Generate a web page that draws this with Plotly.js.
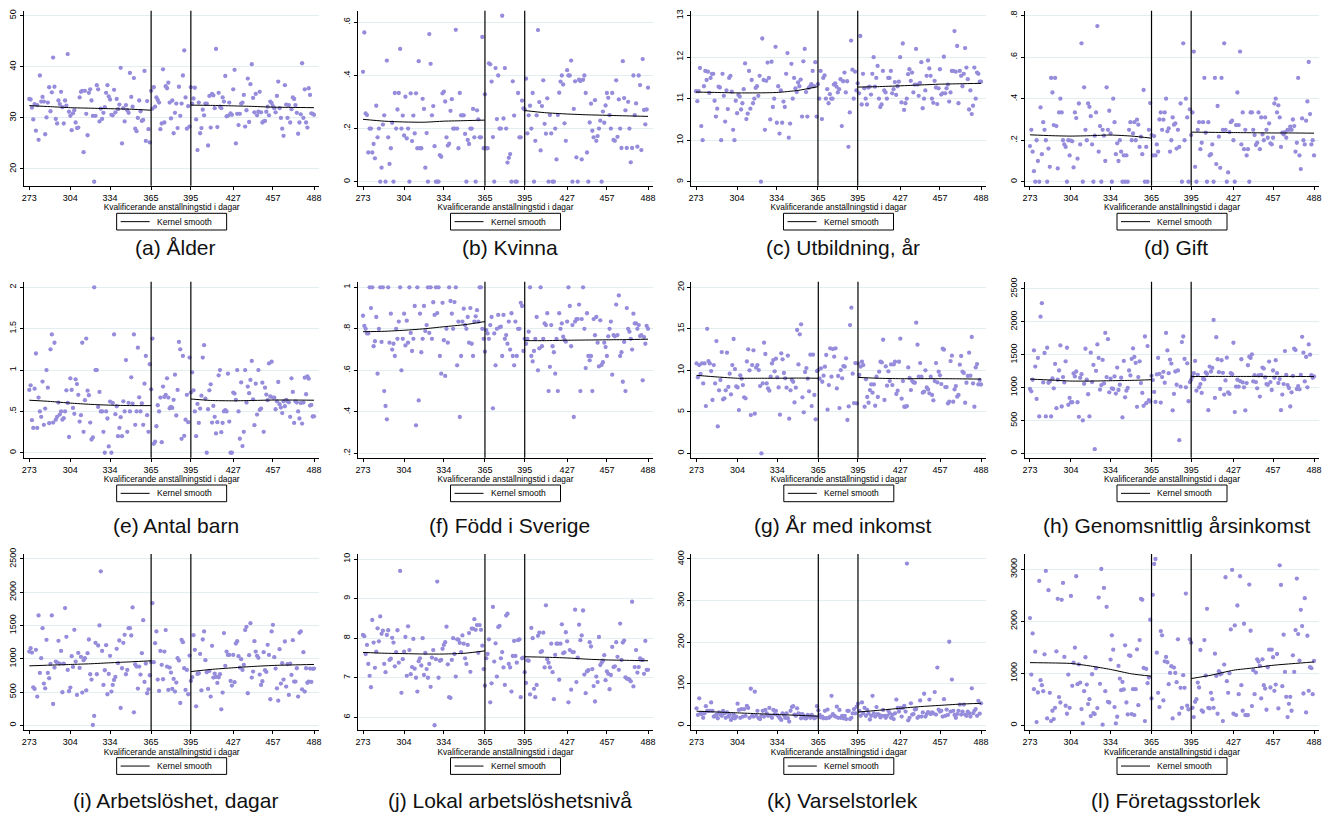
<!DOCTYPE html>
<html>
<head>
<meta charset="utf-8">
<script src="https://cdn.plot.ly/plotly-3.0.1.min.js"></script>
<style>html,body{margin:0;padding:0;background:#fff;}#chart{width:1337px;height:817px;}</style>
</head>
<body>
<div id="chart"></div>
<script>
// ---------------- DATA ----------------
const days = [273,274,275,276,277,278,279,280,281,282,283,284,285,286,287,288,289,290,291,292,293,294,295,296,297,298,299,300,301,302,303,
304,305,306,307,308,309,310,311,312,313,314,315,316,317,318,319,320,321,322,323,324,325,326,327,328,329,330,331,332,333,
334,335,336,337,338,339,340,341,342,343,344,345,346,347,348,349,350,351,352,353,354,355,356,357,358,359,360,361,362,363,364,
365,366,367,368,369,370,371,372,373,374,375,376,377,378,379,380,381,382,383,384,385,386,387,388,389,390,391,392,393,394,
395,396,397,398,399,400,401,402,403,404,405,406,407,408,409,410,411,412,413,414,415,416,417,418,419,420,421,422,423,424,425,426,
427,428,429,430,431,432,433,434,435,436,437,438,439,440,441,442,443,444,445,446,447,448,449,450,451,452,453,454,455,456,
457,458,459,460,461,462,463,464,465,466,467,468,469,470,471,472,473,474,475,476,477,478,479,480,481,482,483,484,485,486,487,488];

const xTickVals = [273,304,334,365,395,427,457,488];
const xTickText = ["273","304","334","365","395","427","457","488"];
const xTitle = "Kvalificerande anställningstid i dagar";
const legendName = "Kernel smooth";
const cutoffs = [365,395];

const smoothXLeft  = [273,289,304,319,334,350,365];
const smoothXRight = [395,410,427,442,457,472,488];

const captions = ["(a) Ålder","(b) Kvinna","(c) Utbildning, år","(d) Gift",
  "(e) Antal barn","(f) Född i Sverige","(g) År med inkomst","(h) Genomsnittlig årsinkomst",
  "(i) Arbetslöshet, dagar","(j) Lokal arbetslöshetsnivå","(k) Varselstorlek","(l) Företagsstorlek"];

const alder = [33.7,33.6,32.0,29.7,32.7,27.5,32.5,25.7,38.3,33.2,34.1,33.2,26.8,30.1,33.0,36.0,31.3,35.0,41.8,36.1,29.8,28.9,33.4,32.7,35.1,32.1,28.9,33.4,32.4,42.5,31.2,
30.4,27.6,30.9,31.5,29.1,28.0,28.1,34.0,35.1,35.3,23.3,35.3,30.8,26.6,34.9,35.6,33.4,30.4,17.5,30.4,36.4,35.6,29.3,31.8,29.8,31.0,32.1,34.9,36.4,34.2,
33.6,30.6,30.5,35.5,31.1,33.7,31.7,32.6,39.8,25.0,31.9,29.3,32.5,31.5,31.0,38.8,34.1,32.2,37.8,27.9,27.4,30.0,33.4,31.3,29.4,29.6,39.2,25.5,33.3,27.8,25.2,
35.3,31.8,36.0,32.2,34.0,33.5,33.0,27.8,28.9,39.5,29.1,36.2,35.8,36.9,33.0,29.9,33.4,27.0,31.0,32.8,28.0,36.1,30.4,32.8,38.3,43.2,34.0,27.9,32.3,28.3,
36.0,32.8,33.8,35.9,29.7,23.7,33.0,27.0,28.0,31.6,30.5,32.8,32.8,24.6,34.3,28.1,34.7,34.4,31.9,43.5,28.2,34.9,32.2,31.9,34.0,33.2,38.2,30.3,30.4,33.0,30.9,30.6,
35.6,39.4,25.0,30.8,28.6,30.8,32.8,33.0,34.5,28.3,31.5,37.7,29.2,36.6,40.5,33.9,31.1,34.7,30.5,31.2,35.1,31.1,29.1,29.3,29.4,31.2,32.2,30.5,33.2,32.9,
32.3,31.9,31.1,34.3,37.1,31.9,30.0,27.9,26.5,36.4,32.6,30.0,32.5,29.1,31.7,34.0,33.7,32.5,31.0,26.9,29.1,30.7,40.7,30.0,35.6,29.1,28.1,35.8,34.5,30.9,30.8,30.6];

const kvinna = [.414,.562,.257,.251,.11,.20,.20,.11,.142,.088,.286,.167,.20,0,.053,.215,.25,0,.456,.167,.067,.126,.222,0,.334,.20,.272,.334,.50,.20,.249,
.174,.32,.163,.20,0,.333,.153,.249,.182,.333,.126,.454,.126,.126,.312,.274,.053,.183,0,.556,.444,.25,.285,.134,0,0,0,.10,.094,.333,
.339,.302,.167,.136,.143,.267,.311,.20,.20,.572,.20,.126,.334,.25,.25,.25,.18,0,.157,.142,.20,.20,.274,.167,0,.269,.235,.167,.167,.545,.126,
.329,.126,.126,.446,.442,.377,.168,0,.428,.236,.40,.20,.20,.625,.238,.428,.20,.072,.09,.104,0,.378,.249,0,0,.334,.167,.167,.305,.276,
.272,.388,.182,.25,.286,.20,.334,0,.154,.25,.571,.30,.118,.285,.382,.218,.181,.314,0,.251,.182,0,0,.20,.084,.251,.335,.377,.40,.366,.22,.154,
.42,.40,.40,.456,0,.274,.378,.092,0,.384,.379,.084,.384,.40,.334,.11,0,.223,.294,.192,.167,.307,.154,.172,.20,.23,0,.264,.222,.287,
.334,.316,.251,.20,.334,.157,.154,.382,.169,.31,.20,.127,.454,.315,.269,.127,.301,.20,.073,.127,.40,.251,.295,.132,.40,.364,.119,.462,.27,.216,.272,.354];

const utbildning = [11.18,10.94,11.18,11.74,10.34,10.0,11.3,11.67,11.45,11.65,11.14,11.5,11.6,11.6,10.95,10.57,10.76,11.29,11.27,10.0,11.6,11.07,10.45,11.2,10.75,11.5,11.55,11.17,10.25,10.0,10.95,
10.65,11.09,11.05,10.74,10.89,11.23,11.85,10.51,10.64,11.67,10.76,11.45,10.89,11.0,11.26,11.3,11.07,11.55,9.0,12.45,11.45,10.25,11.43,11.87,11.5,10.5,11.89,10.8,11.0,12.25,
10.42,11.3,10.16,11.2,10.42,10.93,10.8,11.6,12.1,10.06,10.4,11.84,11.0,11.5,11.25,11.16,11.39,11.3,11.46,10.57,11.9,12.2,11.16,10.57,11.26,11.29,11.35,11.67,11.3,11.88,10.57,
11.35,11.0,11.67,10.51,11.5,11.56,11.0,11.23,10.89,11.11,11.0,11.0,11.34,11.37,11.29,11.15,11.23,11.47,10.34,11.42,11.63,11.15,11.42,9.84,10.67,12.4,11.7,11.0,11.65,11.2,
11.37,11.13,12.51,10.86,11.6,11.25,11.0,10.86,11.27,11.29,11.1,11.6,12.0,11.29,11.5,11.79,11.0,10.8,10.86,11.67,11.2,11.15,11.0,11.5,11.5,11.67,11.13,11.23,11.4,11.09,11.3,11.41,
12.0,10.91,12.33,10.73,10.89,11.0,11.59,11.71,11.43,11.63,11.15,11.34,12.2,11.34,11.07,11.38,11.88,10.77,11.0,11.2,11.55,11.92,11.73,11.55,11.0,10.9,11.43,11.27,10.87,11.25,
11.71,11.1,11.13,12.01,11.13,11.25,11.34,10.93,11.15,11.67,11.67,12.63,11.65,12.27,10.89,11.67,11.55,11.3,11.6,12.22,11.75,11.47,10.74,11.2,10.63,10.83,11.75,11.0,11.63,11.6,11.41,11.41];

const gift = [.172,.25,.145,.051,0,.20,.10,0,.358,.133,.287,.25,.20,0,.16,.072,.50,.43,.273,.50,.268,.064,.334,.40,.334,.20,.18,.168,0,.20,.127,
.198,.195,.069,.334,.307,.111,.377,.18,.667,0,.455,.25,.20,.377,.361,.316,.18,0,.222,.334,.75,.145,.268,0,.25,.222,.10,.455,.25,.342,
.233,0,.40,.287,.133,.185,.10,.20,.145,0,.127,0,.127,0,.25,.287,.20,.233,.287,.20,.299,.275,.168,.217,.133,.442,0,.168,0,.25,.379,
.225,.127,.22,.127,.18,.145,.30,.334,.25,.299,.334,.40,.243,.257,.145,.20,.31,.275,.281,.16,.25,.168,.377,0,.667,.20,.40,.31,0,.349,
.225,.334,.627,.072,0,.25,.287,.157,.188,.287,.50,.236,0,.287,.127,.133,.18,0,.50,.085,.365,.217,.067,.50,.25,.667,.25,0,.045,.239,.287,.294,
.20,0,.273,.43,.273,.627,.18,.334,.157,.25,.127,.157,0,.334,.334,.25,.225,.177,.188,.334,.157,.31,.228,.20,.31,.25,.212,.281,.185,.18,
.212,.377,.40,.334,.368,.31,.168,.236,.228,.239,.212,.25,.25,.265,.25,.30,.268,.145,.188,.50,.127,.061,.305,.20,.18,.294,.387,.577,.326,.18,.20,.127];

const antalBarn = [.76,.815,.394,.30,.775,1.2,.30,.667,.50,.434,.86,.337,.534,1.0,.787,.357,1.25,1.43,.365,1.33,.40,.434,.606,.462,.50,.40,.418,.50,.755,.602,.19,
.90,.76,.542,.47,.888,.83,.70,.377,.454,1.33,.253,.635,1.38,.75,.695,.365,.16,.185,2.0,1.0,1.0,.554,.735,.50,.50,.253,0,.50,.414,.076,
.618,0,.602,1.43,.466,.562,.20,.30,.43,.20,.622,.50,1.12,.253,.602,.50,.912,.594,1.43,.337,.50,1.27,.67,.50,.598,.337,.835,1.17,.454,.253,1.07,
.767,1.38,.108,.133,.32,.574,.50,.667,.128,.80,.675,.70,.90,.667,.538,.554,.542,.64,.944,.45,.76,1.34,1.25,.168,1.17,.205,.40,.70,.37,1.15,
.727,.972,.755,.50,.20,.59,.361,.534,.69,1.15,1.3,.655,0,.526,.755,.827,.365,.566,.434,.233,.37,.936,1.0,.249,.361,.50,.514,.50,.956,.377,0,0,
.727,.715,.64,1.0,.50,.169,.85,.08,.253,1.0,.606,.80,.72,.88,1.11,.646,.333,.835,.462,1.0,.518,.534,.847,.253,.787,.703,.635,1.08,.68,1.1,
.667,.667,.526,.622,.855,.586,.546,.48,.622,.562,.64,.62,.61,.434,.90,.735,.361,.622,.606,.50,.414,.60,.353,.606,.908,.707,.924,.896,.57,.578,.438,.44];

const foddSverige = [.863,.814,.80,.778,.778,1,.90,1,.716,.74,.857,.584,.80,1,.737,1,.50,.428,.364,1,.733,.873,.70,.728,.669,.80,.752,.835,1,.60,.752,
.873,.72,.839,.733,1,.78,.693,.752,.91,.335,1,.455,.873,.687,.752,.91,.789,.818,1,.78,1,.752,.928,.867,1,.876,1,.669,.584,.925,
.745,.573,.80,.733,1,.934,.873,.80,.929,1,.624,.835,.375,.669,.835,.897,.818,.80,.857,.733,.90,.728,.669,.835,.86,.89,.835,1,1,.80,.752,
.69,.794,.778,.752,.818,.857,.417,.778,.624,.80,.867,.807,.81,.669,.867,.752,.77,.728,.835,.70,.875,.669,.624,.835,.669,.80,.80,.925,.91,.693,
.752,.728,.752,.786,1,.669,.643,.693,.752,.857,.60,.706,1,.716,.752,.826,.818,.875,.50,.617,.818,.716,.687,.584,.752,.50,.875,.80,.826,.762,.746,.738,
.835,1,.91,.716,.818,.375,.835,.847,.847,.917,.50,.847,1,.80,.611,.875,.669,.648,.669,.50,.847,.769,.857,.733,.619,.841,.626,.639,.733,.712,
.669,.764,.80,.835,.579,.77,.764,.917,.77,.961,.669,.687,.545,.737,.50,.90,.80,.786,.752,.70,.873,.826,.826,.80,.818,.765,.77,.552,.76,.728,.814,.80];

const arMedInkomst = [10.84,9.16,10.64,9.56,10.84,8.43,10.84,5.7,15.0,11.12,10.84,9.92,6.43,10.64,8.43,13.53,3.25,7.59,8.84,12.2,6.5,6.63,7.59,12.13,8.0,9.6,7.1,10.64,13.78,10.16,8.07,
7.95,5.22,9.4,9.0,8.23,6.75,6.63,11.08,12.53,10.0,4.62,10.64,12.41,4.78,10.32,10.64,10.04,8.11,0,8.43,13.33,11.97,8.43,7.83,7.55,9.24,10.84,11.24,9.88,11.41,
9.16,7.95,4.66,12.05,11.33,9.68,9.04,7.91,11.77,4.18,7.59,8.84,8.63,6.14,7.91,14.86,10.72,14.34,15.54,6.75,4.94,9.8,10.28,9.0,7.47,11.89,5.7,11.89,7.03,4.1,9.92,
10.04,9.0,10.24,8.63,9.36,10.44,11.85,5.26,8.23,12.65,9.24,12.57,11.65,12.65,7.83,9.32,5.46,10.04,9.04,10.52,10.44,11.45,4.02,5.66,15.46,17.55,9.6,6.06,10.88,6.02,
10.84,9.44,10.44,11.04,10.64,5.62,8.92,6.79,6.1,7.63,8.31,7.31,8.31,5.74,9.24,6.79,9.84,11.04,10.96,13.69,6.43,10.48,8.15,9.88,8.71,10.72,8.23,10.72,11.04,7.15,7.55,11.04,
13.82,6.59,8.71,5.62,5.62,5.7,10.36,9.08,7.63,8.71,8.55,8.51,15.74,13.09,9.24,10.88,9.24,7.31,7.43,10.0,7.95,7.71,7.23,9.24,7.03,6.39,8.71,10.88,8.55,9.84,
9.4,8.35,12.61,12.49,7.99,7.99,6.02,6.22,11.12,11.77,6.22,7.71,8.11,6.83,7.03,10.68,11.73,9.84,9.68,6.1,8.51,9.32,12.13,9.36,14.02,8.43,5.62,10.36,10.76,8.31,8.84,8.3];

const arsinkomst = [979,944,1120,1566,1320,828,1451,562,2078,2284,1079,1526,562,1606,1074,1094,562,1140,989,1360,688,1120,1260,1642,713,1160,1079,1400,1606,738,843,
778,778,1215,1170,1245,778,557,1150,1205,502,1059,1591,1120,899,562,1531,1084,1345,65,1255,1657,1451,969,1039,1421,1064,1832,1160,1737,929,
1135,989,979,1170,909,1305,964,1044,1150,547,1406,853,954,994,1260,1185,1436,1596,1466,1376,708,1160,1400,1069,919,723,1777,763,1632,808,788,
1180,1115,934,783,1200,1451,1210,773,1160,1240,1074,1832,1566,1220,1426,1365,653,904,1245,1044,1260,201,1014,1692,1777,1436,1004,1370,793,1084,
1120,1165,1220,1406,954,1195,1004,1054,919,1135,1125,1230,1210,658,1320,1245,1300,2028,843,1767,1431,1235,979,1416,1225,894,1110,1456,929,904,1220,1205,
1682,628,1014,1120,1014,1099,1431,1079,1004,653,1069,1340,1471,1451,1506,1094,1190,1084,989,1185,864,1195,1305,1290,1155,1054,1044,1396,1084,964,
1260,1150,1416,1220,1069,1130,658,894,1054,1556,1195,1039,994,713,929,1180,1591,1571,979,1024,974,1195,1772,1531,1094,1466,1004,1657,1501,1190,1150,1170];

const arbetsloshet = [1109,1160,1094,572,547,1135,432,1652,788,1009,1461,627,557,1285,788,708,924,1652,321,868,959,944,1270,929,1119,497,929,1762,1330,833,512,
567,1039,878,1436,959,457,1089,863,1029,492,979,1009,527,1084,1290,768,688,5,141,1240,768,1200,1501,2314,1119,607,828,1205,467,773,
1044,507,607,683,728,1150,934,1275,261,858,1240,1361,768,833,1461,1461,1350,1772,196,914,883,552,883,763,1084,1581,653,929,482,542,753,
949,1837,949,1235,1411,688,517,1119,909,693,1109,1431,883,532,868,793,547,698,507,643,1009,974,336,1285,1250,858,532,833,467,1049,
668,723,1355,1135,286,773,783,1074,527,1290,1411,979,798,547,818,432,1195,718,778,728,638,723,768,241,492,1386,894,1109,1059,1059,668,597,
1059,648,1230,1265,1039,868,994,833,909,1431,1481,482,1054,1536,718,808,1265,1109,1044,1014,763,607,663,1099,828,803,1210,1059,392,1411,
1511,1024,853,557,371,1145,627,934,688,1260,582,919,457,929,758,1280,658,658,858,432,1391,1411,542,1099,507,858,640,658,853,653,850,853];

const lokalArbetsloshet = [8.08,8.05,7.6,7.83,7.35,7.05,6.76,8.46,7.89,7.25,7.66,8.25,7.92,8.55,8.11,8.19,7.35,7.14,8.08,8.2,7.45,7.48,8.01,7.89,7.29,7.65,8.2,7.38,9.7,6.62,7.47,
7.66,8.03,7.05,8.3,7.7,7.09,7.27,7.98,7.23,7.0,6.65,7.42,7.49,7.31,8.0,7.07,7.63,7.22,7.0,7.35,6.77,7.51,7.7,5.8,7.47,9.43,7.0,7.43,7.45,7.73,
7.83,7.9,8.29,7.34,6.51,6.49,7.45,8.0,7.6,7.03,7.97,7.96,7.88,7.65,8.07,7.86,7.49,7.35,7.83,8.13,7.15,8.24,8.24,8.48,8.21,8.33,7.63,8.33,8.21,7.81,7.22,
6.8,7.49,7.6,7.97,6.38,6.86,8.79,7.41,7.87,7.03,8.28,8.31,7.49,7.65,7.26,6.82,8.57,8.62,7.35,7.26,6.65,7.55,7.93,7.55,7.38,7.95,7.97,6.51,7.49,7.51,
7.14,6.87,7.44,7.43,6.58,8.26,8.0,6.72,6.51,6.82,8.06,8.14,7.65,7.67,8.14,7.26,8.83,7.47,7.38,7.26,7.86,7.14,6.46,7.58,7.86,7.86,6.95,7.86,8.35,7.62,7.64,8.15,
7.92,6.38,7.7,6.7,7.65,7.65,8.72,6.89,7.51,8.34,7.95,8.07,8.7,7.08,6.61,7.16,7.19,7.9,7.79,7.22,6.79,6.4,7.03,6.89,8.03,7.32,7.38,7.43,7.57,6.94,
7.16,7.1,6.71,7.07,7.78,7.27,7.29,7.9,7.53,7.2,8.37,7.45,7.89,7.94,7.01,6.98,6.97,6.95,6.91,8.92,6.78,7.27,7.7,7.13,7.27,7.49,7.45,7.45,7.1,7.93,7.2,7.2];

const varselstorlek = [41,25,65,29,27,18,29,46,35,35,35,55,35,21,23,26,17,31,26,23,35,29,18,31,21,26,13,17,26,17,21,
52,37,18,39,21,39,23,47,42,18,88,23,21,81,23,35,17,15,23,35,21,37,29,23,42,23,18,37,27,35,
25,21,17,13,29,25,18,29,17,9,35,44,46,26,23,41,29,27,17,27,23,17,17,25,23,18,25,21,17,19,46,
36,25,19,21,17,35,17,38,18,21,71,27,23,21,45,18,37,18,23,17,23,15,35,35,15,18,29,39,29,45,
52,35,23,55,29,42,23,37,29,14,23,71,29,21,44,27,25,19,23,37,23,18,23,35,29,18,25,15,29,62,42,33,
42,21,42,47,33,389,12,18,53,26,27,38,39,18,21,60,21,31,76,21,27,32,62,27,31,29,80,26,139,38,
33,35,21,63,23,38,25,201,33,110,35,25,18,27,35,50,26,33,50,26,23,33,29,21,89,29,35,39,23,59,28,53];

const foretagsstorlek = [2062,977,1768,696,1417,64,632,2777,868,772,657,1366,2968,134,2598,626,83,281,121,338,1423,2432,543,440,2413,2738,1315,377,223,977,338,
2489,760,1206,1494,2866,792,1174,823,313,38,657,1309,785,409,504,179,983,236,217,1098,332,2457,798,3006,13,2642,657,2279,453,440,
1264,1730,1455,351,38,166,1143,900,677,836,689,1538,440,211,1347,1334,217,696,198,696,1462,389,1640,2432,2413,1104,83,1085,811,919,2030,
517,2509,3102,3198,1398,626,351,1813,1730,479,1232,1315,1213,792,1008,1136,134,1111,1008,830,1653,223,721,338,964,721,2534,377,306,1653,
1589,338,160,453,504,823,728,1449,287,262,1640,957,2240,338,326,626,504,338,1379,951,223,1040,983,996,83,1168,2847,849,626,1002,1845,2987,
223,1921,198,2304,600,2866,772,281,1953,198,198,198,2706,1819,370,1060,600,1015,1270,1226,1143,517,1270,772,708,300,1117,1455,728,1455,
1309,664,785,1372,326,3077,2700,753,1743,1028,549,160,415,549,281,1347,1028,1832,2821,1755,1245,2221,1908,613,2445,249,1723,664,1117,1100,600,1238];

// kernel smooth left of 365 and right of 395
const smoothLeft = [
  [32.4,32.2,32.0,31.9,31.8,31.7,31.5],
  [.235,.228,.225,.224,.228,.230,.232],
  [11.16,11.15,11.14,11.14,11.15,11.20,11.29],
  [.226,.222,.220,.222,.225,.220,.210],
  [.635,.620,.600,.585,.575,.570,.570],
  [.786,.788,.793,.800,.810,.820,.835],
  [9.40,9.20,9.05,9.05,9.05,9.07,9.05],
  [1130,1115,1100,1100,1105,1110,1120],
  [894,905,915,925,940,955,970],
  [7.64,7.62,7.61,7.60,7.60,7.62,7.68],
  [34,32,30,28,26,24,22],
  [1206,1200,1190,1140,1075,990,945]];
const smoothRight = [
  [32.5,32.45,32.35,32.25,32.1,32.05,32.0],
  [.268,.260,.255,.252,.250,.248,.246],
  [11.28,11.29,11.31,11.33,11.35,11.36,11.37],
  [.239,.238,.237,.236,.235,.235,.234],
  [.650,.632,.628,.632,.637,.637,.635],
  [.743,.743,.745,.746,.747,.748,.750],
  [9.15,9.05,9.00,9.00,9.00,8.98,8.95],
  [1168,1170,1170,1170,1170,1170,1168],
  [808,840,865,885,900,908,915],
  [7.53,7.52,7.50,7.47,7.45,7.44,7.43],
  [32,36,41,45,48,51,53],
  [900,964,1060,1104,1155,1187,1219]];

const series = [alder,kvinna,utbildning,gift,antalBarn,foddSverige,arMedInkomst,arsinkomst,arbetsloshet,lokalArbetsloshet,varselstorlek,foretagsstorlek];

const yTickVals = [[20,30,40,50],[0,.2,.4,.6],[9,10,11,12,13],[0,.2,.4,.6,.8],
  [0,.5,1,1.5,2],[.2,.4,.6,.8,1],[0,5,10,15,20],[0,500,1000,1500,2000,2500],
  [0,500,1000,1500,2000,2500],[6,7,8,9,10],[0,100,200,300,400],[0,1000,2000,3000]];
const yTickText = [["20","30","40","50"],["0",".2",".4",".6"],["9","10","11","12","13"],["0",".2",".4",".6",".8"],
  ["0",".5","1","1.5","2"],[".2",".4",".6",".8","1"],["0","5","10","15","20"],["0","500","1000","1500","2000","2500"],
  ["0","500","1000","1500","2000","2500"],["6","7","8","9","10"],["0","100","200","300","400"],["0","1000","2000","3000"]];

// ---------------- LAYOUT (pixels -> paper) ----------------
const W = 1337, H = 817;
const yRanges = [[16.73,50.98],[-0.015,0.644],[8.904,13.12],[-0.019,0.824],
  [-0.06,2.068],[0.179,1.027],[-0.52,20.68],[-65,2610],
  [-70,2575],[5.68,10.127],[-11.2,412],[-89,3294]];
const colLeft  = [[24,357.7,690.7,1024.7],[24,357.7,691.3,1024.7],[24,357.7,691.3,1024.7]];
const colRight = [[319.3,653.3,986.3,1319.3],[319.3,653.3,986.3,1319.3],[319.3,653.3,986.3,1319.3]];
const rowTop = [10.7,281.7,554], rowBot = [185.7,457.7,730];
const legendTop = [213.3,485,757.7], legendH = 16.7;
const captionY = [248,525,800];

const FONT = "Liberation Sans, Arial, Helvetica, sans-serif";
const markerColor = "#958cdb";

const data = [];
const layout = {
  width: W, height: H,
  margin: {l:0,r:0,t:0,b:0},
  paper_bgcolor: "#fff", plot_bgcolor: "#fff",
  font: {family: FONT, color: "#000", size: 9},
  showlegend: false,
  shapes: [], annotations: []
};
const px = v => v / W;
const py = v => 1 - v / H;

for (let k = 0; k < 12; k++) {
  const r = Math.floor(k/4), c = k % 4;
  const n = k === 0 ? "" : String(k+1);
  const xa = "x"+n, ya = "y"+n;
  const L = colLeft[r][c], R = colRight[r][c];
  const cx = (L+R)/2;

  data.push({
    type: "scatter", mode: "markers", x: days, y: series[k],
    xaxis: xa, yaxis: ya, showlegend: false, hoverinfo: "x+y",
    marker: {color: markerColor, size: 4.3, line: {width: 0}}
  });
  data.push({
    type: "scatter", mode: "lines", name: legendName,
    x: smoothXLeft.concat([null], smoothXRight),
    y: smoothLeft[k].concat([null], smoothRight[k]),
    xaxis: xa, yaxis: ya, showlegend: false, connectgaps: false,
    line: {color: "#000", width: 1, shape: "spline", smoothing: 0.6}
  });

  layout["xaxis"+n] = {
    domain: [px(L), px(R)], anchor: ya, range: [269, 492],
    tickmode: "array", tickvals: xTickVals, ticktext: xTickText,
    ticks: "outside", ticklen: 3, tickwidth: 1, tickcolor: "#000",
    showline: true, linecolor: "#000", linewidth: 1, mirror: false,
    showgrid: false, zeroline: false, tickfont: {size: 9, family: FONT},
    title: {text: xTitle, font: {size: 8.4, family: FONT}, standoff: 1}
  };
  layout["yaxis"+n] = {
    domain: [py(rowBot[r]), py(rowTop[r])], anchor: xa, range: yRanges[k],
    tickmode: "array", tickvals: yTickVals[k], ticktext: yTickText[k],
    tickangle: -90, ticks: "outside", ticklen: 3, tickwidth: 1, tickcolor: "#000",
    showline: true, linecolor: "#000", linewidth: 1,
    showgrid: true, gridcolor: "#e3eef0", gridwidth: 1, zeroline: false,
    tickfont: {size: 9, family: FONT}
  };
  cutoffs.forEach(cv => layout.shapes.push({
    type: "line", xref: xa, yref: ya+" domain", x0: cv, x1: cv, y0: 0, y1: 1,
    line: {color: "#000", width: 1.2}
  }));
  // legend box (Stata style) : frame, line key, label
  const lt = legendTop[r], lm = lt + legendH/2;
  layout.shapes.push({type: "rect", xref: "paper", yref: "paper",
    x0: px(cx-55), x1: px(cx+55), y0: py(lt+legendH), y1: py(lt),
    line: {color: "#000", width: 1}, fillcolor: "#fff"});
  layout.shapes.push({type: "line", xref: "paper", yref: "paper",
    x0: px(cx-51), x1: px(cx-22), y0: py(lm), y1: py(lm),
    line: {color: "#000", width: 1}});
  layout.annotations.push({xref: "paper", yref: "paper", x: px(cx-17), y: py(lm),
    xanchor: "left", yanchor: "middle", showarrow: false, text: legendName,
    font: {size: 8.5, family: FONT, color: "#000"}});

  layout.annotations.push({
    xref: "paper", yref: "paper", x: px(cx+4), y: py(captionY[r]),
    xanchor: "center", yanchor: "middle", showarrow: false,
    text: captions[k], font: {size: 21, family: FONT, color: "#111"}
  });
}

Plotly.newPlot("chart", data, layout, {displayModeBar: false, staticPlot: true});
</script>
</body>
</html>
